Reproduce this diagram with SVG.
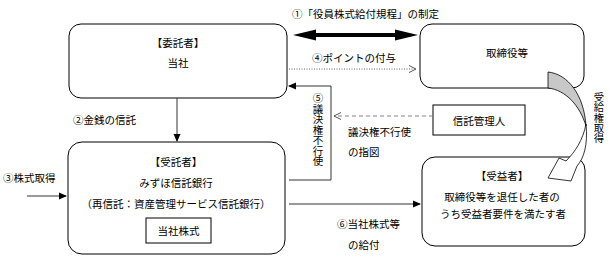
<svg xmlns="http://www.w3.org/2000/svg" width="610" height="258" viewBox="0 0 610 258">
<defs>
<style>
text{font-family:"Noto Sans CJK JP","Noto Sans",sans-serif;font-size:10.5px;fill:#000}
.c{text-anchor:middle}
.v{writing-mode:vertical-rl;text-orientation:upright;font-size:10.3px}
.box{fill:#fff;stroke:#000;stroke-width:1}
.ln{fill:none;stroke:#333;stroke-width:1}
</style>
<marker id="ah" markerWidth="8" markerHeight="8" refX="7" refY="4" orient="auto" markerUnits="userSpaceOnUse">
<path d="M0,0.5 L8,4 L0,7.5 Z" fill="#000"/>
</marker>
<marker id="open" markerWidth="8" markerHeight="8" refX="7" refY="4" orient="auto" markerUnits="userSpaceOnUse">
<path d="M0,0.5 L7,4 L0,7.5" fill="none" stroke="#555" stroke-width="1"/>
</marker>
</defs>
<rect width="610" height="258" fill="#fff"/>

<g id="itakusha">
<rect class="box" x="69" y="24" width="218" height="74" rx="12"/>
<text class="c" x="178" y="47">【委託者】</text>
<text class="c" x="178" y="67">当社</text>
</g>

<g id="torishimariyaku">
<rect class="box" x="420" y="24" width="164" height="64" rx="12"/>
<text class="c" x="507" y="57">取締役等</text>
</g>

<g id="jutakusha">
<rect class="box" x="68" y="142" width="217" height="112" rx="14"/>
<text class="c" x="176" y="166">【受託者】</text>
<text class="c" x="176" y="187">みずほ信託銀行</text>
<text class="c" x="176" y="208">（再信託：資産管理サービス信託銀行）</text>
<rect class="box" x="146" y="218" width="65" height="25"/>
<text class="c" x="178.5" y="235">当社株式</text>
</g>

<g id="shintakukanrinin">
<rect class="box" x="433" y="105" width="92" height="30"/>
<text class="c" x="479" y="125">信託管理人</text>
</g>

<g id="jueki">
<rect class="box" x="422" y="157" width="163" height="89" rx="13"/>
<text class="c" x="502" y="180">【受益者】</text>
<text class="c" x="502" y="201">取締役等を退任した者の</text>
<text class="c" x="503" y="218">うち受益者要件を満たす者</text>
</g>

<g id="connectors">
<line x1="310" y1="35" x2="400" y2="35" stroke="#000" stroke-width="4"/>
<path d="M293,35 L316,29.5 L316,40.5 Z" fill="#000"/>
<path d="M418,35 L395,29.5 L395,40.5 Z" fill="#000"/>
<text x="292" y="18">①「役員株式給付規程」の制定</text>
<line x1="289" y1="69" x2="416" y2="69" stroke="#666" stroke-width="1" stroke-dasharray="1,1.5" marker-end="url(#open)"/>
<text x="312" y="62">④ポイントの付与</text>
<line class="ln" x1="177" y1="98" x2="177" y2="141" marker-end="url(#ah)"/>
<text x="73" y="124">②金銭の信託</text>
<line class="ln" x1="27" y1="196" x2="66" y2="196" marker-end="url(#ah)"/>
<text x="3" y="182">③株式取得</text>
<polyline class="ln" points="289,180 331,180 331,86 289,86" marker-end="url(#ah)"/>
<text class="v" x="318" y="93" style="font-size:10.5px">⑤議決権不行使</text>
<line x1="433" y1="116" x2="334" y2="116" stroke="#8a7a9a" stroke-width="1" stroke-dasharray="4,3" marker-end="url(#open)"/>
<text x="348" y="136">議決権不行使</text>
<text x="348" y="156">の指図</text>
<line class="ln" x1="289" y1="204" x2="420" y2="204" marker-end="url(#ah)"/>
<text x="337" y="228">⑥当社株式等</text>
<text x="348" y="249">の給付</text>
<path d="M548,72 C568,74 584,95 586,126 C580,106 566,90 548,88 Z" fill="#c8c8c8" stroke="#000" stroke-width="0.8"/>
<path d="M586,124 C588,145 584,158 577,166 L571,181 L548,178 L559,158 L566,161 C575,152 583,140 586,124 Z" fill="#fff" stroke="#000" stroke-width="0.8"/>
<text class="v" x="599" y="92">受給権取得</text>
</g>
</svg>
